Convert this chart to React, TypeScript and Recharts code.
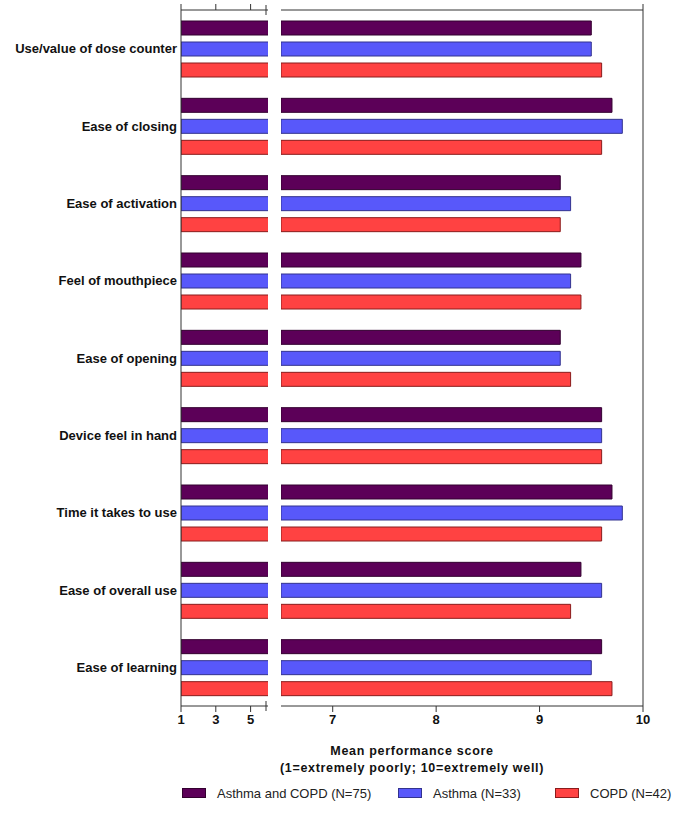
import { Bar, BarChart, ReferenceLine, XAxis, YAxis } from 'recharts';

const FONT = '"Liberation Sans", Arial, sans-serif';

const categories = [
  'Use/value of dose counter',
  'Ease of closing',
  'Ease of activation',
  'Feel of mouthpiece',
  'Ease of opening',
  'Device feel in hand',
  'Time it takes to use',
  'Ease of overall use',
  'Ease of learning',
];
const bothValues = [9.5, 9.7, 9.2, 9.4, 9.2, 9.6, 9.7, 9.4, 9.6];
const asthmaValues = [9.5, 9.8, 9.3, 9.3, 9.2, 9.6, 9.8, 9.6, 9.5];
const copdValues = [9.6, 9.6, 9.2, 9.4, 9.3, 9.6, 9.6, 9.3, 9.7];

const seriesNames = ['Asthma and COPD (N=75)', 'Asthma (N=33)', 'COPD (N=42)'];
const seriesKeys = ['both', 'asthma', 'copd'];
const seriesFill = ['#5C0058', '#5858FA', '#FF4242'];
const seriesStroke = ['#33002f', '#33338f', '#8a1c1c'];

// broken axis: left piece 1..6, right piece 6.5..10
const leftDomain = [1, 6];
const leftTicks = [1, 3, 5, 6];
const leftTopTicks = [1, 3, 5, 6];
const rightDomain = [6.5, 10];
const rightTicks = [6.5, 7, 8, 9, 10];
const rightTopTicks = [6.5, 10];

const data = categories.map((name, i) => ({
  name,
  both: bothValues[i],
  asthma: asthmaValues[i],
  copd: copdValues[i],
}));

const TOP = 10;
const PLOT_H = 696;
const AXIS_H = 30;
const CHART_H = TOP + PLOT_H + AXIS_H;

function makeTick(side: 'top' | 'bottom', capAt: number, showLabel: boolean) {
  return (props: any) => {
    const { x, y, payload } = props;
    const v = payload.value;
    const isCap = v === capAt;
    const dir = side === 'top' ? -1 : 1;
    return (
      <g>
        {isCap ? (
          <line x1={x} x2={x} y1={y - 5} y2={y + 5} stroke="#333" strokeWidth={1} />
        ) : (
          <line x1={x} x2={x} y1={y} y2={y + dir * 6} stroke="#333" strokeWidth={1} />
        )}
        {showLabel && !isCap && (
          <text
            x={x}
            y={y + 18}
            textAnchor="middle"
            fontFamily={FONT}
            fontWeight="bold"
            fontSize={13}
            fill="#111"
          >
            {v}
          </text>
        )}
      </g>
    );
  };
}

function renderBars() {
  return seriesKeys.map((k, i) => (
    <Bar
      key={k}
      dataKey={k}
      name={seriesNames[i]}
      fill={seriesFill[i]}
      stroke={seriesStroke[i]}
      strokeWidth={1}
      barSize={14}
      isAnimationActive={false}
    />
  ));
}

export default function App() {
  return (
    <div
      style={{
        position: 'absolute',
        left: 0,
        top: 0,
        width: 685,
        height: 815,
        background: '#fff',
        fontFamily: FONT,
      }}
    >
      <div style={{ position: 'absolute', left: 0, top: 0 }}>
        <BarChart
          width={270}
          height={CHART_H}
          data={data}
          layout="vertical"
          barGap={7}
          margin={{ top: 0, right: 2, left: 0, bottom: 0 }}
        >
          <XAxis
            xAxisId="top"
            orientation="top"
            type="number"
            domain={leftDomain}
            ticks={leftTopTicks}
            allowDataOverflow
            height={TOP}
            tickSize={0}
            tickMargin={0}
            tickLine={false}
            stroke="#333"
            tick={makeTick('top', 6, false)}
          />
          <XAxis
            type="number"
            domain={leftDomain}
            ticks={leftTicks}
            allowDataOverflow
            height={AXIS_H}
            tickSize={0}
            tickMargin={0}
            tickLine={false}
            stroke="#333"
            tick={makeTick('bottom', 6, true)}
          />
          <YAxis
            type="category"
            dataKey="name"
            width={181}
            tickSize={0}
            tickMargin={4}
            tickLine={false}
            stroke="#333"
            tick={{ fontFamily: FONT, fontWeight: 'bold', fontSize: 13, fill: '#111' }}
          />
          {renderBars()}
        </BarChart>
      </div>
      <div style={{ position: 'absolute', left: 281, top: 0 }}>
        <BarChart
          width={404}
          height={CHART_H}
          data={data}
          layout="vertical"
          barGap={7}
          margin={{ top: 0, right: 42, left: 0, bottom: 0 }}
        >
          <XAxis
            xAxisId="top"
            orientation="top"
            type="number"
            domain={rightDomain}
            ticks={rightTopTicks}
            allowDataOverflow
            height={TOP}
            tickSize={0}
            tickMargin={0}
            tickLine={false}
            stroke="#333"
            tick={makeTick('top', 6.5, false)}
          />
          <XAxis
            type="number"
            domain={rightDomain}
            ticks={rightTicks}
            allowDataOverflow
            height={AXIS_H}
            tickSize={0}
            tickMargin={0}
            tickLine={false}
            stroke="#333"
            tick={makeTick('bottom', 6.5, true)}
          />
          <YAxis type="category" dataKey="name" hide />
          <ReferenceLine x={10} stroke="#333" strokeWidth={1} />
          {renderBars()}
        </BarChart>
      </div>
      <div
        style={{
          position: 'absolute',
          left: 181,
          width: 462,
          top: 743,
          textAlign: 'center',
          fontWeight: 'bold',
          fontSize: 12.5,
          lineHeight: '17px',
          letterSpacing: 0.7,
          color: '#111',
        }}
      >
        <div>Mean performance score</div>
        <div>(1=extremely poorly; 10=extremely well)</div>
      </div>
      {seriesNames.map((n, i) => (
        <div
          key={n}
          style={{
            position: 'absolute',
            left: [182, 398, 555][i],
            top: 785,
            height: 16,
            display: 'flex',
            alignItems: 'center',
            fontSize: 13,
            color: '#222',
            whiteSpace: 'nowrap',
          }}
        >
          <span
            style={{
              display: 'inline-block',
              width: 22,
              height: 8,
              background: seriesFill[i],
              border: `1px solid ${seriesStroke[i]}`,
              marginRight: 11,
            }}
          />
          {n}
        </div>
      ))}
    </div>
  );
}
